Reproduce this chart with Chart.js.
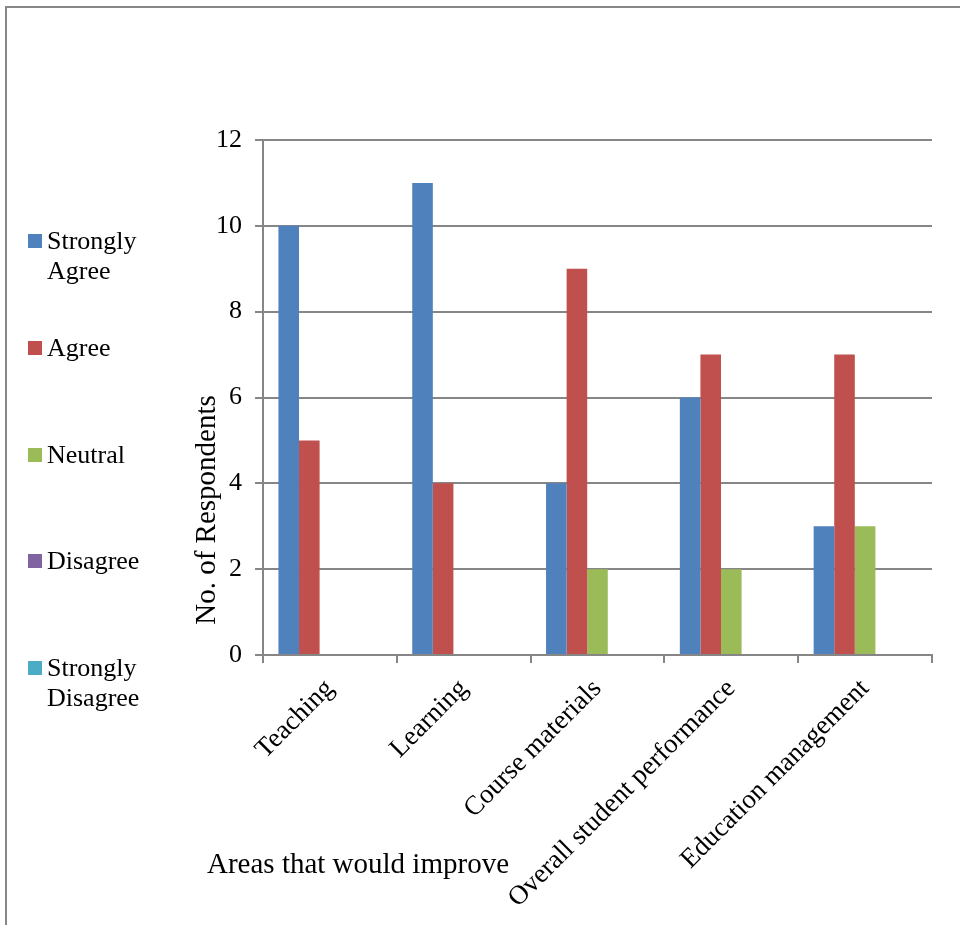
<!DOCTYPE html>
<html>
<head>
<meta charset="utf-8">
<script src="https://cdn.jsdelivr.net/npm/chart.js@4.4.1/dist/chart.umd.min.js"></script>
<style>
    html, body { margin: 0; padding: 0; background: #fff; }
    #wrap { position: relative; width: 960px; height: 925px; }
    #frame { position: absolute; left: 5px; top: 6px; right: -10px; bottom: -10px; border: 2px solid #888; }
    #legend { position: absolute; left: 28px; top: 0; font-family: "Liberation Serif", "Times New Roman", serif; font-size: 26px; color: #000; }
    .item { position: absolute; left: 0; width: 140px; line-height: 30px; }
    .item span.box { position: absolute; left: 0; top: 8px; width: 14px; height: 14px; }
    .item span.txt { display: block; margin-left: 19px; }
</style>
</head>
<body>
<div id="wrap">
    <canvas id="chart" width="960" height="925"></canvas>
    <div id="frame"></div>
    <div id="legend"></div>
</div>
<script>
const categories = ['Teaching', 'Learning', 'Course materials', 'Overall student performance', 'Education management'];
const seriesNames = ['Strongly Agree', 'Agree', 'Neutral', 'Disagree', 'Strongly Disagree'];
const stronglyAgree = [10, 11, 4, 6, 3];
const agree = [5, 4, 9, 7, 7];
const neutral = [0, 0, 2, 2, 3];
const disagree = [0, 0, 0, 0, 0];
const stronglyDisagree = [0, 0, 0, 0, 0];
const colors = ['#4F81BD', '#C0504D', '#9BBB59', '#8064A2', '#4BACC6'];

const serif = '"Liberation Serif", "Times New Roman", serif';
const gridColor = '#868686';

const values = [stronglyAgree, agree, neutral, disagree, stronglyDisagree];
const datasets = seriesNames.map((name, i) => ({
    label: name,
    data: values[i],
    backgroundColor: colors[i],
    borderWidth: 0,
    barPercentage: 1,
    categoryPercentage: 5 / 6.5
}));

// axis titles are placed by hand, the y one sits low like the original
const axisTitles = {
    id: 'axisTitles',
    afterDraw(chart) {
        const ctx = chart.ctx;
        const area = chart.chartArea;
        ctx.save();
        ctx.fillStyle = '#000';
        ctx.font = '29px ' + serif;
        ctx.textBaseline = 'middle';
        ctx.textAlign = 'center';
        ctx.translate(area.left - 56, area.bottom - 145);
        ctx.rotate(-Math.PI / 2);
        ctx.fillText('No. of Respondents', 0, 0);
        ctx.restore();

        ctx.save();
        ctx.fillStyle = '#000';
        ctx.font = '29px ' + serif;
        ctx.textBaseline = 'middle';
        ctx.textAlign = 'left';
        ctx.fillText('Areas that would improve', area.left - 56, area.bottom + 210);
        ctx.restore();
    }
};

const chart = new Chart(document.getElementById('chart'), {
    type: 'bar',
    data: { labels: categories, datasets: datasets },
    plugins: [axisTitles],
    options: {
        responsive: false,
        animation: false,
        layout: { padding: { left: 203, top: 140, right: 28, bottom: 20 } },
        plugins: {
            legend: { display: false },
            tooltip: { enabled: false }
        },
        scales: {
            x: {
                afterFit: (s) => { s.height = 250; },
                grid: { drawOnChartArea: false, drawTicks: true, tickLength: 8, color: gridColor, lineWidth: 2 },
                border: { color: gridColor, width: 2 },
                ticks: {
                    minRotation: 45,
                    maxRotation: 45,
                    color: '#000',
                    padding: 10,
                    font: { family: serif, size: 27 }
                }
            },
            y: {
                min: 0,
                max: 12,
                afterFit: (s) => { s.width = 60; },
                grid: { color: gridColor, lineWidth: 2, tickLength: 8 },
                border: { color: gridColor, width: 2 },
                ticks: {
                    stepSize: 2,
                    color: '#000',
                    padding: 13,
                    font: { family: serif, size: 26 }
                }
            }
        }
    }
});

// legend on the left, one entry per series
const legend = document.getElementById('legend');
const legendTops = [226, 333, 440, 546, 653];
seriesNames.forEach((name, i) => {
    const item = document.createElement('div');
    item.className = 'item';
    item.style.top = legendTops[i] + 'px';
    item.innerHTML = '<span class="box" style="background:' + colors[i] + '"></span><span class="txt">' + name + '</span>';
    legend.appendChild(item);
});
</script>
</body>
</html>
